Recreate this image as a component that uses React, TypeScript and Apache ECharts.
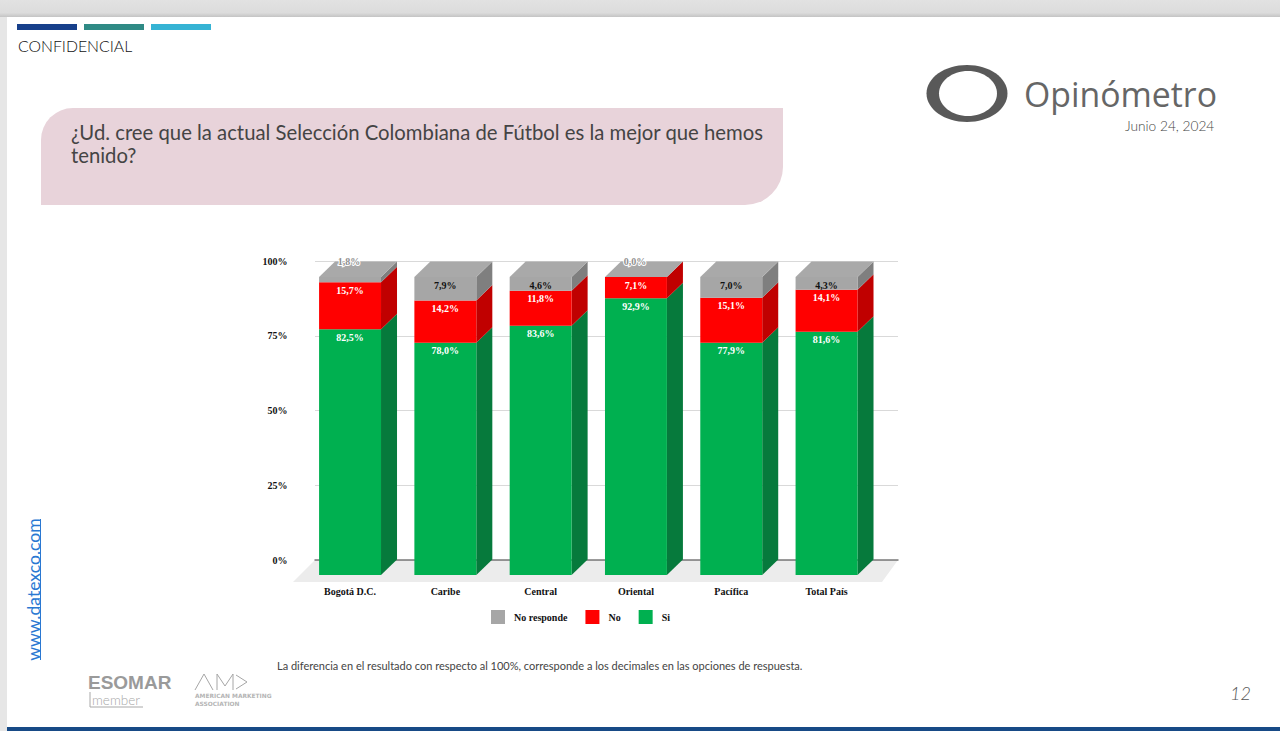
import React, { useEffect, useRef } from "react";
import * as echarts from "echarts";

const categories = ["Bogotá D.C.", "Caribe", "Central", "Oriental", "Pacífica", "Total País"];
const si = [82.5, 78.0, 83.6, 92.9, 77.9, 81.6];
const no = [15.7, 14.2, 11.8, 7.1, 15.1, 14.1];
const noResponde = [1.8, 7.9, 4.6, 0.0, 7.0, 4.3];
const valueTicks = [0, 25, 50, 75, 100];

const SERIF = '"Liberation Serif", serif';
const DEPTH_X = 16;
const DEPTH_Y = 15.5;
const BAR_RATIO = 0.65;

const fmt = (v: number) => v.toFixed(1).replace(".", ",") + "%";

function stackData(values: number[], below: number[][]) {
  return values.map((v, i) => {
    const total = si[i] + no[i] + noResponde[i];
    const base = below.reduce((s, arr) => s + arr[i], 0);
    return [i, (base / total) * 100, ((base + v) / total) * 100, v];
  });
}

function makeRender(front: string, side: string, labelFill: string, isTop: boolean) {
  return (_p: any, api: any) => {
    const cat = api.value(0);
    const low = api.coord([cat, api.value(1)]);
    const high = api.coord([cat, api.value(2)]);
    const value = api.value(3);
    const w = api.size([1, 0])[0] * BAR_RATIO;
    const x0 = low[0] - w / 2;
    const x1 = low[0] + w / 2;
    const yb = low[1];
    const yt = high[1];
    const children: any[] = [
      { type: "polygon", shape: { points: [[x1, yb], [x1 + DEPTH_X, yb - DEPTH_Y], [x1 + DEPTH_X, yt - DEPTH_Y], [x1, yt]] }, style: { fill: side } },
      { type: "rect", shape: { x: x0, y: yt, width: w, height: yb - yt }, style: { fill: front } },
    ];
    if (isTop) {
      children.push({
        type: "polygon",
        shape: { points: [[x0, yt], [x1, yt], [x1 + DEPTH_X, yt - DEPTH_Y], [x0 + DEPTH_X, yt - DEPTH_Y]] },
        style: { fill: "#a9a9a9" },
      });
    }
    const thin = isTop && value < 2;
    children.push({
      type: "text",
      z2: 10,
      style: {
        text: fmt(value),
        x: thin ? low[0] - 1 : low[0],
        y: thin ? yt - DEPTH_Y : yt + 8,
        align: "center",
        verticalAlign: "middle",
        fill: thin ? "#8f8f8f" : labelFill,
        stroke: thin ? "#ffffff" : undefined,
        lineWidth: thin ? 2 : 0,
        strokeFirst: thin,
        font: `bold 10px ${SERIF}`,
      },
    });
    return { type: "group", children };
  };
}

function txt(text: string, x: number, y: number, font: string, fill: string) {
  return { type: "text", x, y, style: { text, font, fill, verticalAlign: "middle" } };
}

function pageGraphics() {
  return [
    { type: "rect", shape: { x: 0, y: 0, width: 1280, height: 17 }, style: { fill: new echarts.graphic.LinearGradient(0, 0, 0, 1, [{ offset: 0, color: "#e2e2e2" }, { offset: 0.75, color: "#dcdcdc" }, { offset: 1, color: "#c4c4c4" }]) } },
    { type: "rect", shape: { x: 0, y: 17, width: 7, height: 714 }, style: { fill: "#e6e6e6" } },
    { type: "rect", shape: { x: 7, y: 727, width: 1273, height: 4 }, style: { fill: "#174a86" } },
    { type: "rect", shape: { x: 17, y: 24, width: 60, height: 6 }, style: { fill: "#17408b" } },
    { type: "rect", shape: { x: 84, y: 24, width: 60, height: 6 }, style: { fill: "#2f8a85" } },
    { type: "rect", shape: { x: 151, y: 24, width: 60, height: 6 }, style: { fill: "#35b3d4" } },
    txt("CONFIDENCIAL", 18, 45, '300 15.8px Lato', "#111111"),
    { type: "rect", shape: { x: 41, y: 108, width: 742, height: 97, r: [32, 0, 38, 0] }, style: { fill: "#e8d3da" } },
    txt("¿Ud. cree que la actual Selección Colombiana de Fútbol es la mejor que hemos", 71, 131.5, '400 20.3px Lato', "#444444"),
    txt("tenido?", 71, 154.5, '400 20.3px Lato', "#444444"),
    { type: "ellipse", shape: { cx: 967, cy: 93.5, rx: 40.5, ry: 28.5 }, style: { fill: "#595959" } },
    { type: "ellipse", shape: { cx: 968, cy: 93.5, rx: 29, ry: 22.5 }, style: { fill: "#ffffff" } },
    txt("Opinómetro", 1024, 94, '400 33.8px "Open Sans"', "#666666"),
    txt("Junio 24, 2024", 1125, 125.5, '300 13.7px Lato', "#444444"),
    { type: "text", x: 33, y: 589.5, rotation: Math.PI / 2, style: { text: "www.datexco.com", font: '400 17.6px Lato', fill: "#2a78d2", align: "center", verticalAlign: "middle" } },
    { type: "line", shape: { x1: 40.5, y1: 519, x2: 40.5, y2: 660 }, style: { stroke: "#2a78d2", lineWidth: 1 } },
    txt("La diferencia en el resultado con respecto al 100%, corresponde a los decimales en las opciones de respuesta.", 277, 665.5, '400 11px Lato', "#444444"),
    txt("12", 1230, 693, 'italic 300 18px Lato', "#555555"),
    txt("ESOMAR", 88, 682, 'bold 19px "Liberation Sans"', "#9a9a9a"),
    txt("member", 92, 700, '300 13.5px Lato', "#a8a8a8"),
    { type: "line", shape: { x1: 90, y1: 692, x2: 90, y2: 707 }, style: { stroke: "#a8a8a8", lineWidth: 1 } },
    { type: "line", shape: { x1: 90, y1: 707, x2: 143, y2: 707 }, style: { stroke: "#a8a8a8", lineWidth: 1 } },
    { type: "polyline", shape: { points: [[195, 690], [204, 674], [213, 690]] }, style: { fill: "none", stroke: "#a6a6a6", lineWidth: 1 } },
    { type: "polyline", shape: { points: [[217, 690], [217, 674], [225, 686], [233, 674], [233, 690]] }, style: { fill: "none", stroke: "#a6a6a6", lineWidth: 1 } },
    { type: "polyline", shape: { points: [[236, 675], [247, 682], [236, 689]] }, style: { fill: "none", stroke: "#a6a6a6", lineWidth: 1 } },
    txt("AMERICAN MARKETING", 195, 696, 'bold 5.9px "DejaVu Sans"', "#b4b4b4"),
    txt("ASSOCIATION", 195, 704, 'bold 5.9px "DejaVu Sans"', "#b4b4b4"),
    { type: "polygon", z: -1, shape: { points: [[315, 560], [898, 560], [882, 582], [293, 582]] }, style: { fill: "#ececec" } },
  ];
}

export default function App() {
  const ref = useRef<HTMLDivElement>(null);
  useEffect(() => {
    const chart = echarts.init(ref.current!, undefined, { renderer: "svg" });
    const customBase = { type: "custom", xAxisIndex: 1, yAxisIndex: 1, clip: false, encode: { x: 0, y: [1, 2] } };
    chart.setOption({
      animation: false,
      backgroundColor: "#ffffff",
      graphic: { elements: pageGraphics() },
      legend: {
        left: 486,
        top: 605,
        itemWidth: 14,
        itemHeight: 14,
        itemGap: 18,
        icon: "rect",
        data: ["No responde", "No", "Si"],
        textStyle: { fontFamily: SERIF, fontWeight: "bold", fontSize: 10, color: "#111111", padding: [0, 0, 0, 4] },
      },
      grid: [
        { left: 315, width: 583, top: 261, height: 299, containLabel: false },
        { left: 302.4, width: 571.8, top: 277, height: 298, containLabel: false },
      ],
      xAxis: [
        { type: "category", gridIndex: 0, data: categories, axisLabel: { show: false }, axisTick: { show: false }, axisLine: { lineStyle: { color: "#7a7a7a", width: 1.5 } } },
        {
          type: "category", gridIndex: 1, data: categories, axisTick: { show: false }, axisLine: { show: false },
          axisLabel: { interval: 0, margin: 11, fontFamily: SERIF, fontWeight: "bold", fontSize: 10, color: "#111111" },
        },
      ],
      yAxis: [
        {
          type: "value", gridIndex: 0, min: valueTicks[0], max: valueTicks[valueTicks.length - 1], interval: 25,
          axisLine: { show: false }, axisTick: { show: false },
          splitLine: { lineStyle: { color: "#d9d9d9", width: 1 } },
          axisLabel: { margin: 27.5, formatter: "{value}%", fontFamily: SERIF, fontWeight: "bold", fontSize: 10, color: "#111111" },
        },
        { type: "value", gridIndex: 1, min: 0, max: 100, show: false },
      ],
      series: [
        { ...customBase, name: "Si", itemStyle: { color: "#00b050" }, renderItem: makeRender("#00b050", "#067a3c", "#ffffff", false), data: stackData(si, []) },
        { ...customBase, name: "No", itemStyle: { color: "#ff0000" }, renderItem: makeRender("#ff0000", "#c00000", "#ffffff", false), data: stackData(no, [si]) },
        { ...customBase, name: "No responde", itemStyle: { color: "#a6a6a6" }, renderItem: makeRender("#a6a6a6", "#7f7f7f", "#111111", true), data: stackData(noResponde, [si, no]) },
      ],
    });
    return () => chart.dispose();
  }, []);
  return <div ref={ref} style={{ position: "fixed", left: 0, top: 0, width: 1280, height: 731 }} />;
}
